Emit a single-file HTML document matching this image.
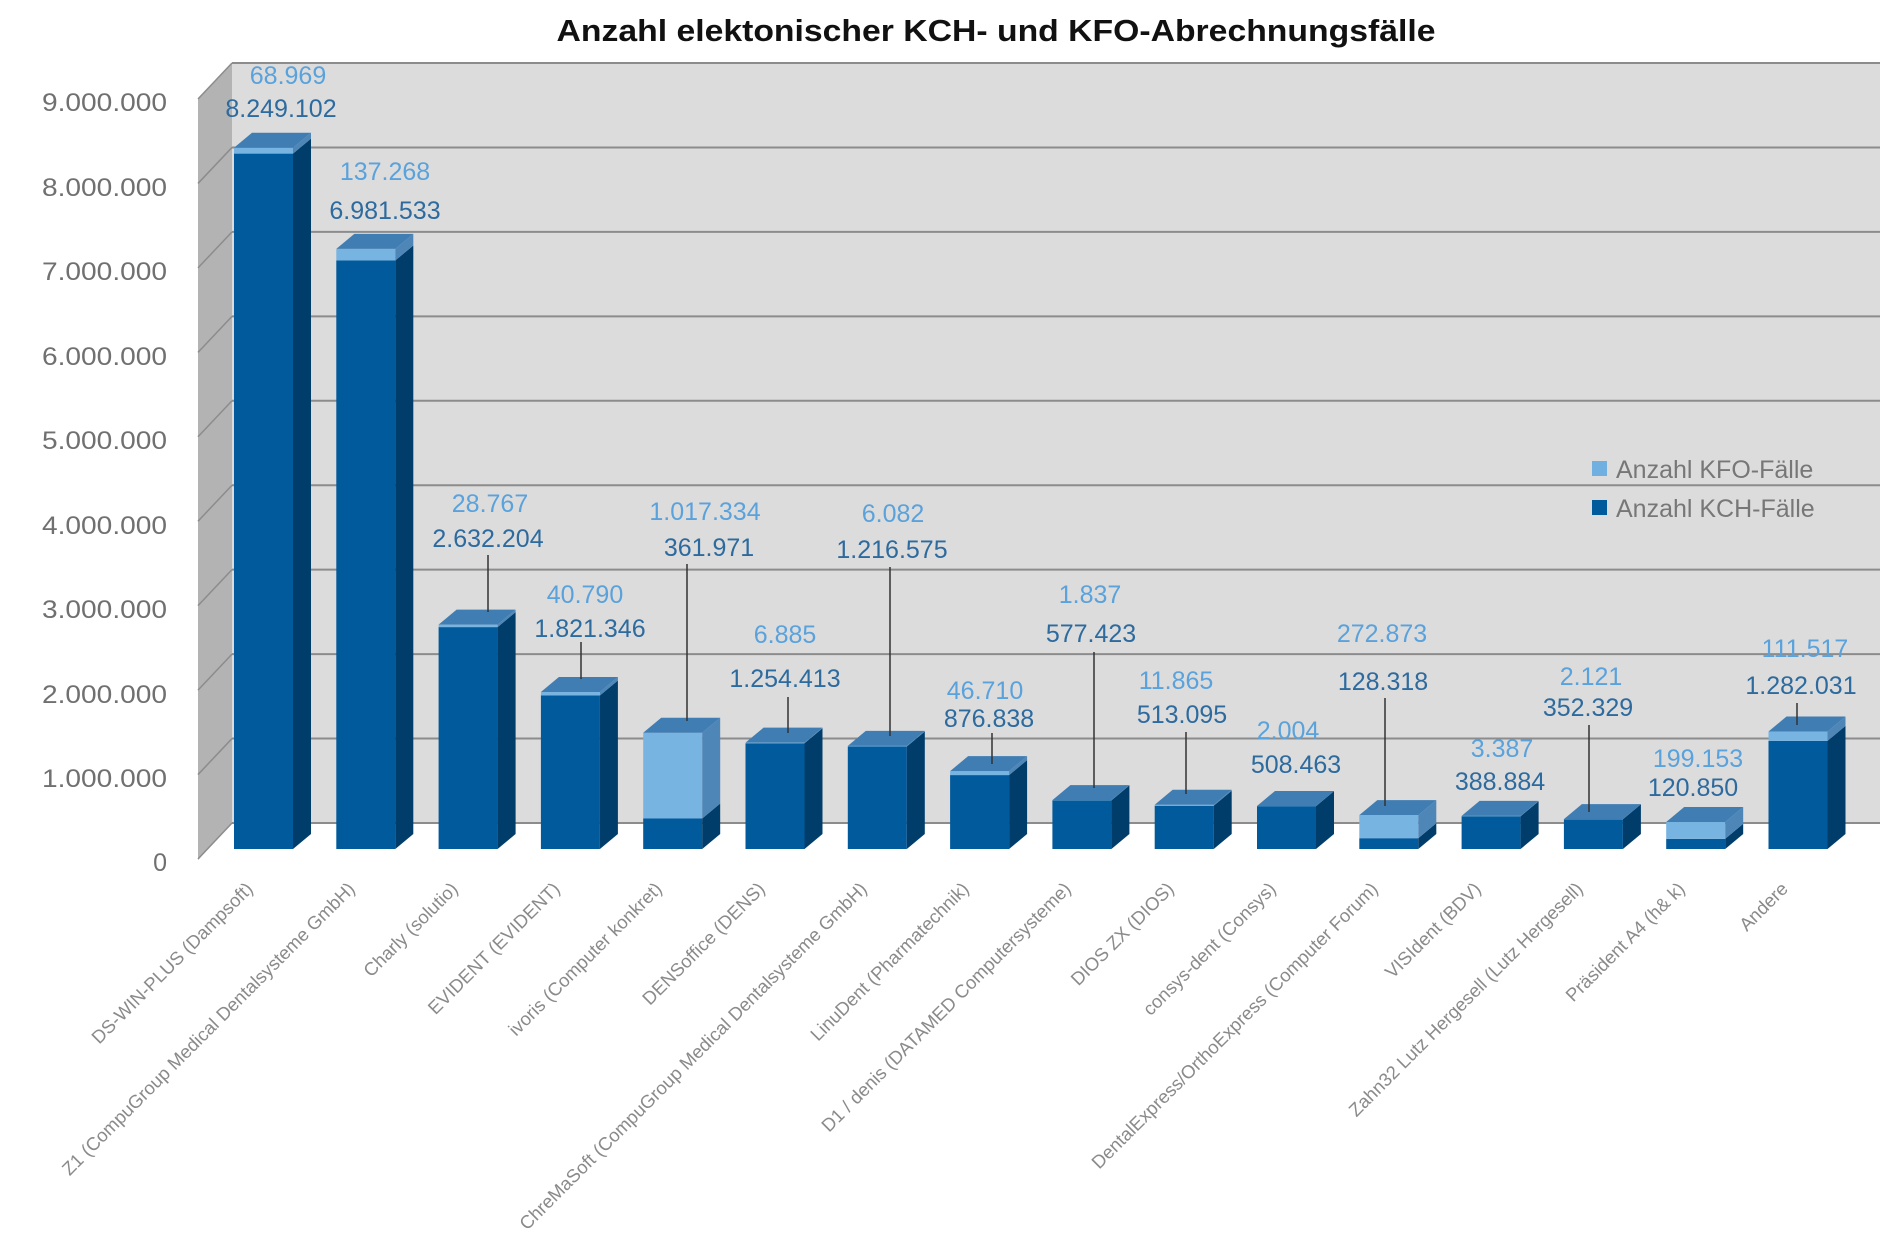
<!DOCTYPE html>
<html><head><meta charset="utf-8"><style>
html,body{margin:0;padding:0;background:#fff;}
svg{display:block;font-family:"Liberation Sans",sans-serif;}
.y{font-size:25px;fill:#707070;text-anchor:end;}
.f{font-size:25px;fill:#5aa2dc;text-anchor:middle;}
.k{font-size:25px;fill:#2d6a9e;text-anchor:middle;}
.x{font-size:18.5px;fill:#8a8a8a;text-anchor:end;}
.lg{font-size:25px;fill:#777;}
</style></head><body>
<svg id="s" width="1900" height="1251" viewBox="0 0 1900 1251" xmlns="http://www.w3.org/2000/svg">
<g id="geo"></g>
<text x="996" y="41" font-size="31" font-weight="bold" fill="#111" text-anchor="middle" textLength="879" lengthAdjust="spacingAndGlyphs">Anzahl elektonischer KCH- und KFO-Abrechnungsfälle</text>
<g>
<text class="y" x="167" y="111" textLength="125" lengthAdjust="spacingAndGlyphs">9.000.000</text>
<text class="y" x="167" y="196" textLength="125" lengthAdjust="spacingAndGlyphs">8.000.000</text>
<text class="y" x="167" y="280" textLength="125" lengthAdjust="spacingAndGlyphs">7.000.000</text>
<text class="y" x="167" y="365" textLength="125" lengthAdjust="spacingAndGlyphs">6.000.000</text>
<text class="y" x="167" y="449" textLength="125" lengthAdjust="spacingAndGlyphs">5.000.000</text>
<text class="y" x="167" y="534" textLength="125" lengthAdjust="spacingAndGlyphs">4.000.000</text>
<text class="y" x="167" y="618" textLength="125" lengthAdjust="spacingAndGlyphs">3.000.000</text>
<text class="y" x="167" y="703" textLength="125" lengthAdjust="spacingAndGlyphs">2.000.000</text>
<text class="y" x="167" y="787" textLength="125" lengthAdjust="spacingAndGlyphs">1.000.000</text>
<text class="y" x="167" y="871">0</text>
</g>
<g stroke="#333" stroke-width="1.5">
<line x1="488" y1="555" x2="488" y2="612"/>
<line x1="581" y1="642" x2="581" y2="679"/>
<line x1="687" y1="564" x2="687" y2="721"/>
<line x1="788" y1="697" x2="788" y2="733"/>
<line x1="890" y1="567" x2="890" y2="736"/>
<line x1="992" y1="733" x2="992" y2="764"/>
<line x1="1094" y1="652" x2="1094" y2="788"/>
<line x1="1186" y1="732" x2="1186" y2="794"/>
<line x1="1385" y1="698" x2="1385" y2="806"/>
<line x1="1589" y1="725" x2="1589" y2="812"/>
<line x1="1797" y1="703" x2="1797" y2="725"/>
</g>
<g>
<text class="f" x="288" y="84">68.969</text><text class="k" x="281" y="117">8.249.102</text>
<text class="f" x="385" y="180">137.268</text><text class="k" x="385" y="219">6.981.533</text>
<text class="f" x="490" y="512">28.767</text><text class="k" x="488" y="547">2.632.204</text>
<text class="f" x="585" y="603">40.790</text><text class="k" x="590" y="637">1.821.346</text>
<text class="f" x="705" y="520">1.017.334</text><text class="k" x="709" y="556">361.971</text>
<text class="f" x="785" y="643">6.885</text><text class="k" x="785" y="687">1.254.413</text>
<text class="f" x="893" y="522">6.082</text><text class="k" x="892" y="558">1.216.575</text>
<text class="f" x="985" y="699">46.710</text><text class="k" x="989" y="727">876.838</text>
<text class="f" x="1090" y="603">1.837</text><text class="k" x="1091" y="642">577.423</text>
<text class="f" x="1176" y="689">11.865</text><text class="k" x="1182" y="723">513.095</text>
<text class="f" x="1288" y="739">2.004</text><text class="k" x="1296" y="773">508.463</text>
<text class="f" x="1382" y="642">272.873</text><text class="k" x="1383" y="690">128.318</text>
<text class="f" x="1502" y="757">3.387</text><text class="k" x="1500" y="790">388.884</text>
<text class="f" x="1591" y="685">2.121</text><text class="k" x="1588" y="716">352.329</text>
<text class="f" x="1698" y="767">199.153</text><text class="k" x="1693" y="796">120.850</text>
<text class="f" x="1805" y="657">111.517</text><text class="k" x="1801" y="694">1.282.031</text>
</g>
<rect x="1592" y="461" width="15" height="15" fill="#6fb0e0"/>
<text class="lg" x="1616" y="478">Anzahl KFO-Fälle</text>
<rect x="1592" y="500" width="15" height="15" fill="#005a9c"/>
<text class="lg" x="1616" y="517">Anzahl KCH-Fälle</text>
<g>
<text class="x" transform="translate(254,890) rotate(-45)">DS-WIN-PLUS (Dampsoft)</text>
<text class="x" transform="translate(356,890) rotate(-45)">Z1 (CompuGroup Medical Dentalsysteme GmbH)</text>
<text class="x" transform="translate(459,890) rotate(-45)">Charly (solutio)</text>
<text class="x" transform="translate(561,890) rotate(-45)">EVIDENT (EVIDENT)</text>
<text class="x" transform="translate(663,890) rotate(-45)">ivoris (Computer konkret)</text>
<text class="x" transform="translate(766,890) rotate(-45)">DENSoffice (DENS)</text>
<text class="x" transform="translate(868,890) rotate(-45)">ChreMaSoft (CompuGroup Medical Dentalsysteme GmbH)</text>
<text class="x" transform="translate(970,890) rotate(-45)">LinuDent (Pharmatechnik)</text>
<text class="x" transform="translate(1072,890) rotate(-45)">D1 / denis (DATAMED Computersysteme)</text>
<text class="x" transform="translate(1175,890) rotate(-45)">DIOS ZX (DIOS)</text>
<text class="x" transform="translate(1277,890) rotate(-45)">consys-dent (Consys)</text>
<text class="x" transform="translate(1379,890) rotate(-45)">DentalExpress/OrthoExpress (Computer Forum)</text>
<text class="x" transform="translate(1482,890) rotate(-45)">VISIdent (BDV)</text>
<text class="x" transform="translate(1584,890) rotate(-45)">Zahn32 Lutz Hergesell (Lutz Hergesell)</text>
<text class="x" transform="translate(1686,890) rotate(-45)">Präsident A4 (h&amp; k)</text>
<text class="x" transform="translate(1789,890) rotate(-45)">Andere</text>
</g>
</svg>
<script>
(function(){
var g=document.getElementById('geo'),h='';
function P(pts,fill,extra){h+='<polygon points="'+pts.map(function(p){return p[0]+','+p[1]}).join(' ')+'" fill="'+fill+'" '+(extra||'')+'/>';}
h+='<rect x="232" y="63" width="1648" height="760" fill="#dcdcdc"/>';
P([[198,98],[232,63],[232,823],[198,860]],'#b3b3b3');
var step=760/9;
for(var i=0;i<=9;i++){var y=63+i*step;
 h+='<line x1="232" y1="'+y+'" x2="1880" y2="'+y+'" stroke="#8c8c8c" stroke-width="2"/>';
 h+='<line x1="198" y1="'+(y+36)+'" x2="232" y2="'+y+'" stroke="#8c8c8c" stroke-width="1.5"/>';}
var d=[[8249102,68969],[6981533,137268],[2632204,28767],[1821346,40790],[361971,1017334],[1254413,6885],[1216575,6082],[876838,46710],[577423,1837],[513095,11865],[508463,2004],[128318,272873],[388884,3387],[352329,2121],[120850,199153],[1282031,111517]];
var base=849,sc=84.3e-6,w=59,dx=18,dy=-15;
d.forEach(function(v,i){
 var x=234+102.3*i,yk=base-v[0]*sc,yt=yk-v[1]*sc;
 h+='<rect x="'+x+'" y="'+yk+'" width="'+w+'" height="'+(base-yk)+'" fill="#005a9c"/>';
 P([[x+w,yk],[x+w+dx,yk+dy],[x+w+dx,base+dy],[x+w,base]],'#003d6b');
 h+='<rect x="'+x+'" y="'+yt+'" width="'+w+'" height="'+(yk-yt)+'" fill="#78b4e2"/>';
 P([[x+w,yt],[x+w+dx,yt+dy],[x+w+dx,yk+dy],[x+w,yk]],'#4f86b8');
 P([[x,yt],[x+dx,yt+dy],[x+w+dx,yt+dy],[x+w,yt]],'#3f7db3');
});
g.innerHTML=h;
})();
</script>
</body></html>
